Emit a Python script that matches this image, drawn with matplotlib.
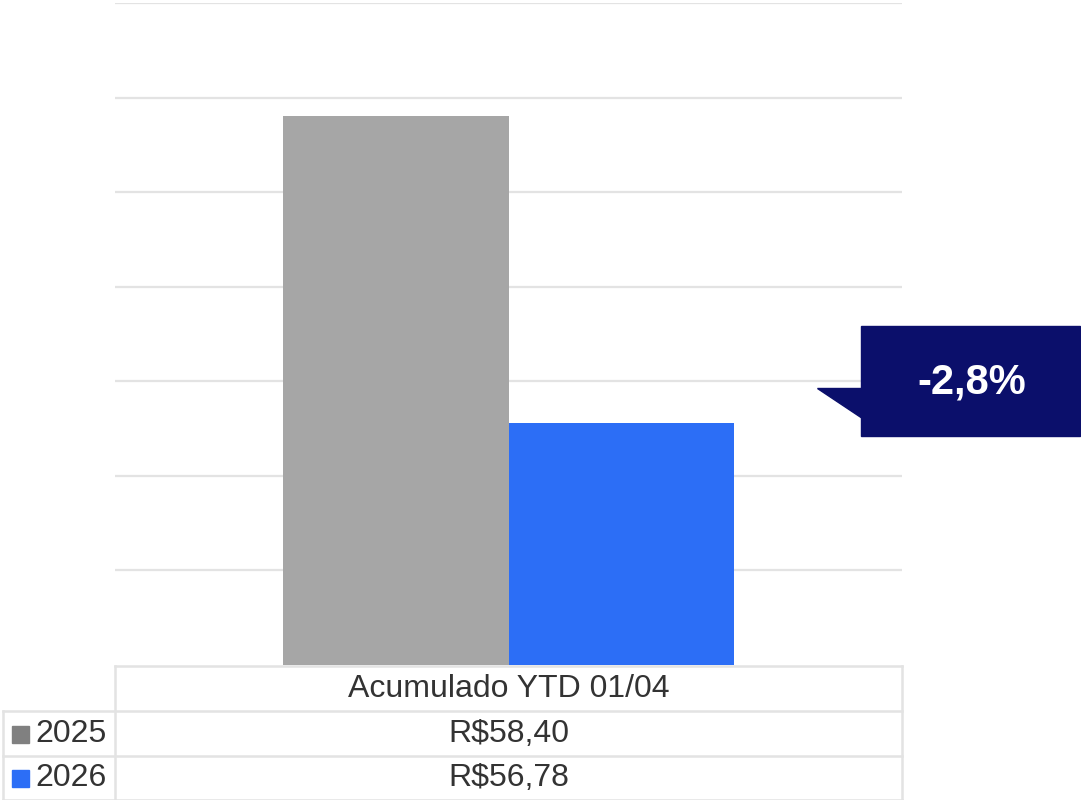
import matplotlib
matplotlib.use("Agg")
import matplotlib.pyplot as plt
from matplotlib.lines import Line2D
from matplotlib.patches import Polygon, Rectangle

plt.rcParams['font.family'] = ['Liberation Sans', 'DejaVu Sans']

category = "Acumulado YTD 01/04"
series = ["2025", "2026"]
values = [58.40, 56.78]
bar_colors = ["#A6A6A6", "#2C6EF6"]
legend_colors = ["#808080", "#2C6EF6"]
y_min, y_max, y_step = 55.5, 59.0, 0.5

W, H = 1081, 800
fig = plt.figure(figsize=(W / 100, H / 100), dpi=100)

def fx(px):
    return px / W

def fy(py):
    return 1 - py / H

ax_l, ax_r, ax_t, ax_b = 115, 902, 3, 665
ax = fig.add_axes([fx(ax_l), fy(ax_b), fx(ax_r - ax_l), (ax_b - ax_t) / H])
ax.set_xlim(-0.5, 0.5)
ax.set_ylim(y_min, y_max)
bw = 0.286
offsets = [-bw / 2, bw / 2]
for off, v, c in zip(offsets, values, bar_colors):
    ax.bar(off, v - y_min, bottom=y_min, width=bw, color=c, zorder=3)
y = y_min + y_step
while y <= y_max + 1e-9:
    ax.axhline(y, color="#E3E3E3", lw=1.6, zorder=1)
    y += y_step
for s in ax.spines.values():
    s.set_visible(False)
ax.set_xticks([])
ax.set_yticks([])

# data table
lc = "#E3E3E3"
lw = 1.8
def hline(x0, x1, yy):
    fig.add_artist(Line2D([fx(x0), fx(x1)], [fy(yy), fy(yy)], color=lc, lw=lw))
def vline(xx, y0, y1):
    fig.add_artist(Line2D([fx(xx), fx(xx)], [fy(y0), fy(y1)], color=lc, lw=lw))

hline(115, 902, 666)
hline(3, 902, 711)
hline(3, 902, 756)
hline(3, 902, 799.5)
vline(3, 711, 800)
vline(115, 666, 800)
vline(902, 666, 800)

fs = 23
fig.text(fx(508.5), fy(689), category, ha="center", va="center", fontsize=fs, color="#333333")
row_centers = [734, 778]
for name, v, lcol, rc in zip(series, values, legend_colors, row_centers):
    fig.add_artist(Rectangle((fx(12), fy(rc + 8.5)), fx(17), 17 / H, color=lcol, transform=fig.transFigure))
    fig.text(fx(35), fy(rc), name, ha="left", va="center", fontsize=fs, color="#333333")
    txt = "R\\$" + f"{v:.2f}".replace(".", ",")
    fig.text(fx(508.5), fy(rc), txt, ha="center", va="center", fontsize=fs, color="#333333")

# callout
pct = (values[1] / values[0] - 1) * 100
navy = "#0B0F6B"
fig.add_artist(Rectangle((fx(861), fy(436)), fx(1080 - 861), (436 - 326) / H, color=navy, transform=fig.transFigure))
fig.add_artist(Polygon([(fx(817), fy(388)), (fx(862), fy(388)), (fx(862), fy(418))], closed=True, color=navy, transform=fig.transFigure))
fig.text(fx(972), fy(382), f"{pct:.1f}%".replace(".", ","), ha="center", va="center",
         fontsize=30, fontweight="bold", color="white")

fig.savefig("out.png", dpi=100)
